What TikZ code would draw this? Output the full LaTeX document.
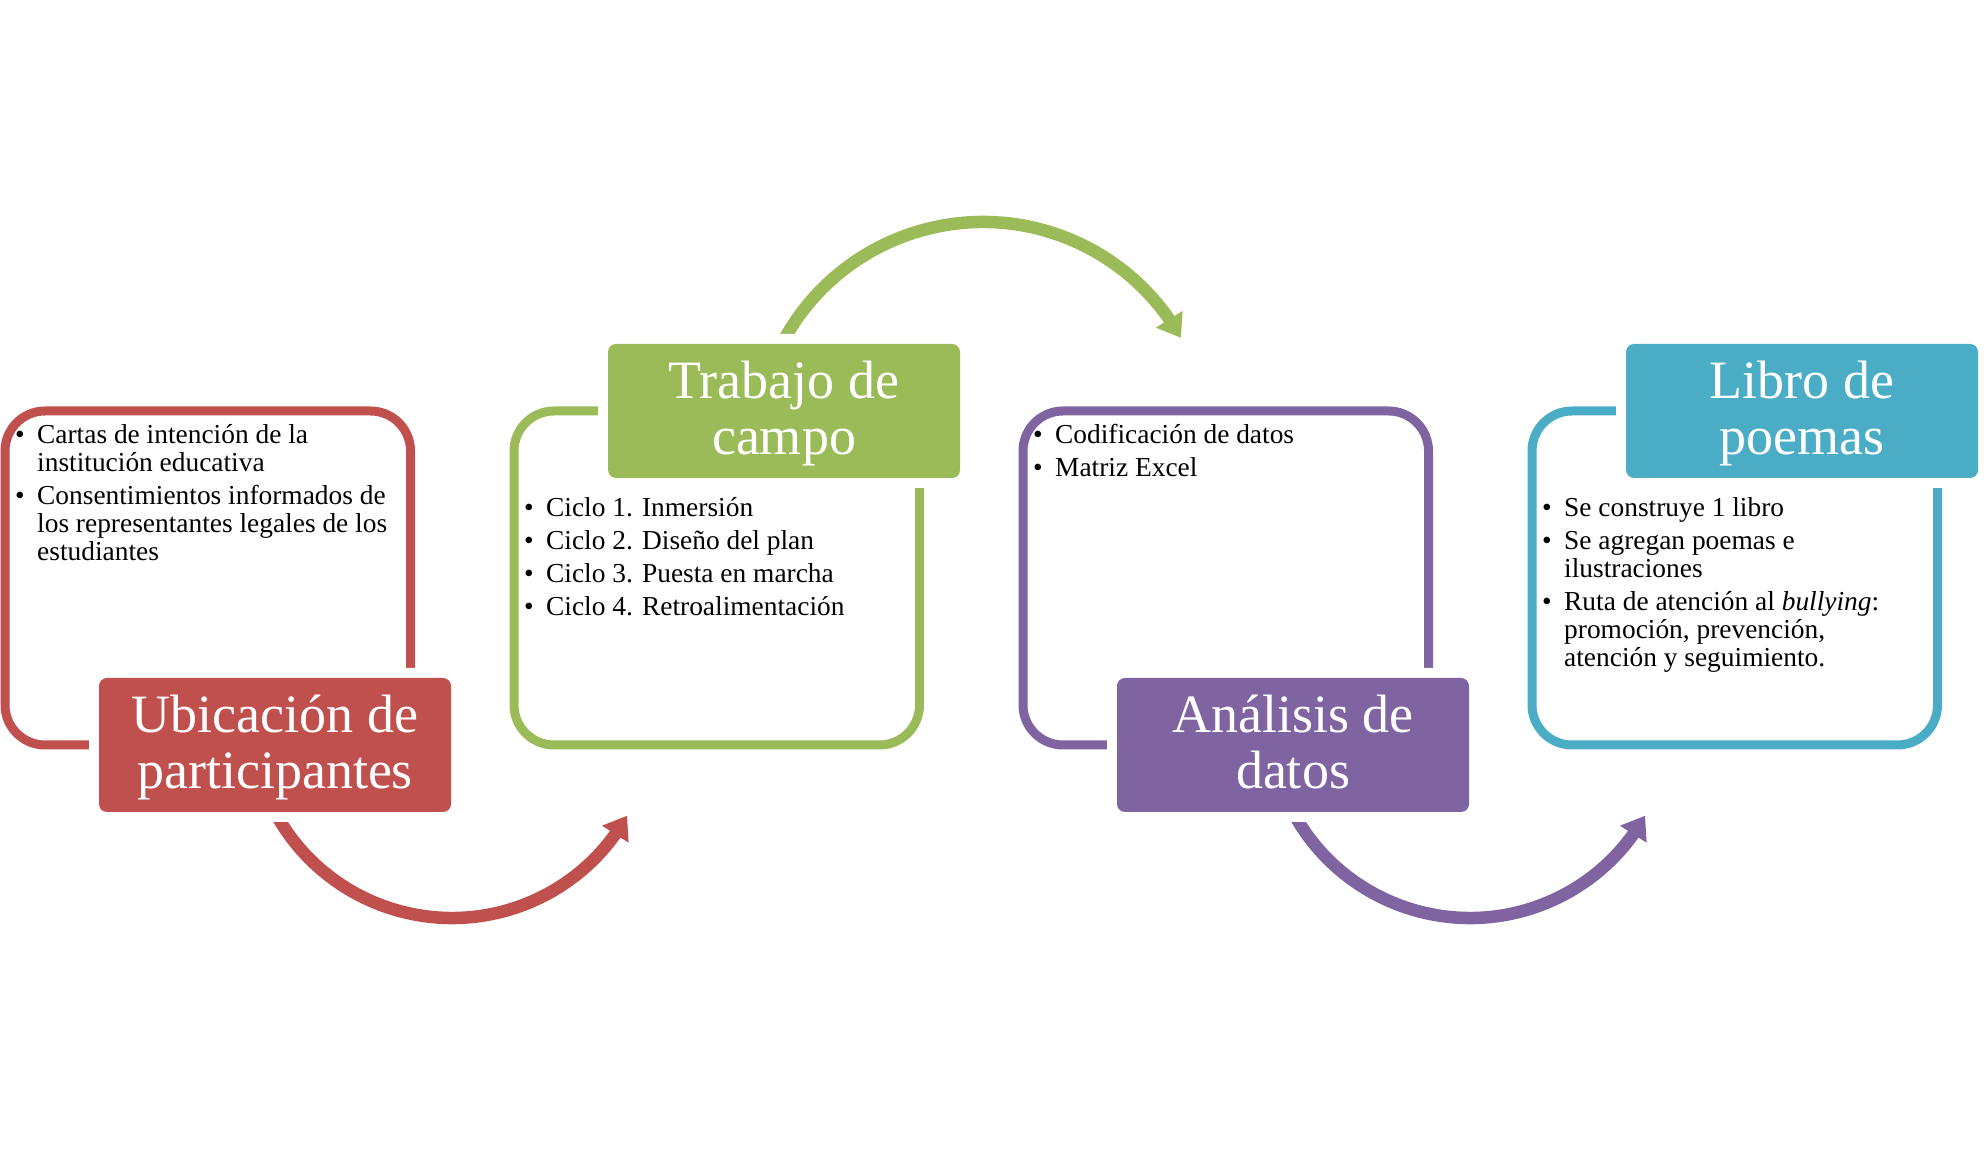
\documentclass[tikz,border=0pt]{standalone}
\usepackage{fontspec}
\setmainfont{Liberation Serif}
\usetikzlibrary{arrows.meta,bending}
\definecolor{cred}{HTML}{C0504D}
\definecolor{cgreen}{HTML}{9BBB59}
\definecolor{cpurple}{HTML}{8064A2}
\definecolor{cblue}{HTML}{4BACC6}
\newcommand\blt[1]{\par\hangindent=22pt\hangafter=1\noindent\makebox[22pt][l]{•}#1}
\newcommand\btext[1]{\parbox[t]{480pt}{\fontsize{27.4}{28}\selectfont\lineskiplimit=-100pt\parskip=5pt #1}}
\newcommand\ttop{\rule{0pt}{45pt}}
\newcommand\tbot{\rule[-14pt]{0pt}{14pt}}
\begin{document}
\begin{tikzpicture}[x=1pt,y=1pt,
  frame/.style={line width=9pt, rounded corners=40pt},
  flow/.style={line width=12.5pt, -{Triangle[width=30pt,length=22pt]}},
  title/.style={minimum width=352pt, minimum height=134pt, inner sep=0pt, rounded corners=8pt, text=white, align=center, font=\fontsize{54}{56}\selectfont, preaction={draw=white, line width=20pt}},
  body/.style={anchor=base west, inner sep=0pt}]
\useasboundingbox (0,0) rectangle (1987,1155);
% frames
\draw[frame, draw=cred]    (5,744) rectangle (410.5,410);
\draw[frame, draw=cgreen]  (514,744) rectangle (919.5,410);
\draw[frame, draw=cpurple] (1023,744) rectangle (1428.5,410);
\draw[frame, draw=cblue]   (1532,744) rectangle (1937.5,410);
% arc centres
\coordinate (a1) at (452,438);
\coordinate (a2) at (983,706);
\coordinate (a3) at (1470,438);
\draw[flow, draw=cred]    (a1) ++(-155:201pt) arc[start angle=-155, end angle=-29.4, radius=201pt];
\draw[flow, draw=cgreen]  (a2) ++(155:227pt) arc[start angle=155, end angle=29.3, radius=227pt];
\draw[flow, draw=cpurple] (a3) ++(-155:201pt) arc[start angle=-155, end angle=-29.4, radius=201pt];
% labels
\node[title, fill=cred]    (l1) at (275,410)  {\ttop Ubicación de\\participantes\tbot};
\node[title, fill=cgreen]  (l2) at (784,744)  {\ttop Trabajo de\\campo\tbot};
\node[title, fill=cpurple] (l3) at (1293,410) {\ttop Análisis de\\datos\tbot};
\node[title, fill=cblue]   (l4) at (1802,744) {\ttop Libro de\\poemas\tbot};
% texts
\node[body] (t1) at (15,711) {\btext{\blt{Cartas de intención de la\\institución educativa}\blt{Consentimientos informados de\\los representantes legales de los\\estudiantes}}};
\node[body] (t2) at (524,638) {\btext{\blt{Ciclo 1. Inmersión}\blt{Ciclo 2. Diseño del plan}\blt{Ciclo 3. Puesta en marcha}\blt{Ciclo 4. Retroalimentación}}};
\node[body] (t3) at (1033,711) {\btext{\blt{Codificación de datos}\blt{Matriz Excel}}};
\node[body] (t4) at (1542,638) {\btext{\blt{Se construye 1 libro}\blt{Se agregan poemas e\\ilustraciones}\blt{Ruta de atención al \textit{bullying}:\\promoción, prevención,\\atención y seguimiento.}}};
\end{tikzpicture}
\end{document}
